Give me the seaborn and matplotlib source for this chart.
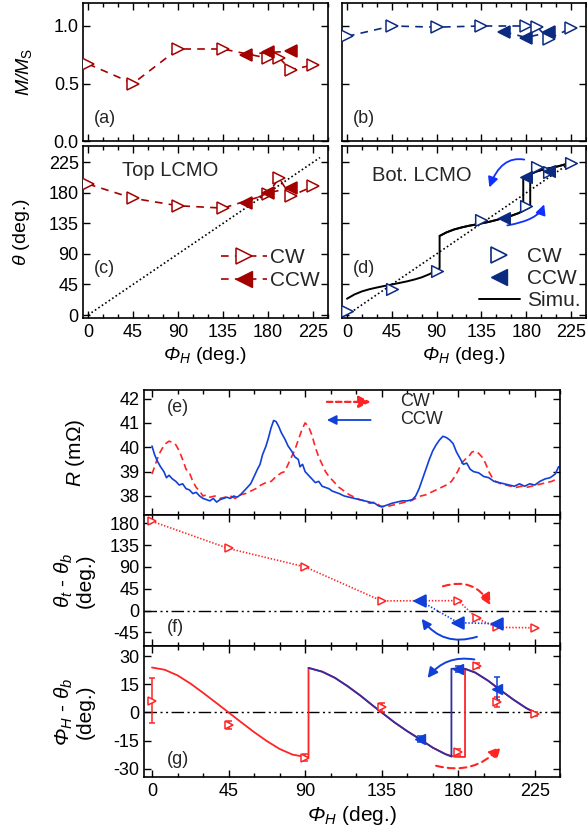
import matplotlib
matplotlib.use('Agg')
import matplotlib.pyplot as plt
import seaborn as sns
import numpy as np
import pandas as pd
from matplotlib.ticker import MultipleLocator, NullFormatter
from matplotlib.lines import Line2D

sns.set_theme(style='ticks')
plt.rcParams.update({
    'font.family': ['Liberation Sans', 'DejaVu Sans'],
    'mathtext.fontset': 'custom',
    'mathtext.rm': 'Liberation Sans:italic',
    'mathtext.it': 'Liberation Sans:italic',
    'mathtext.sf': 'Liberation Sans',
    'axes.unicode_minus': False,
    'lines.scale_dashes': False,
    'xtick.direction': 'in', 'ytick.direction': 'in',
    'xtick.top': True, 'ytick.right': True,
    'xtick.major.size': 5, 'ytick.major.size': 5,
    'xtick.minor.size': 3, 'ytick.minor.size': 3,
    'xtick.major.width': 1.0, 'ytick.major.width': 1.0,
    'xtick.minor.width': 1.0, 'ytick.minor.width': 1.0,
    'axes.linewidth': 1.2,
    'axes.edgecolor': 'black',
    'font.size': 13, 'xtick.labelsize': 13, 'ytick.labelsize': 13,
    'xtick.color': 'black', 'ytick.color': 'black',
    'axes.labelcolor': 'black',
    'xtick.major.pad': 4, 'ytick.major.pad': 3,
})

# ---------------- data ----------------
phi_cw = [0, 45, 90, 135, 180, 191, 202.5, 225]
phi_ccw = [157.5, 180, 202.5]

ms_top_cw = [0.67, 0.50, 0.80, 0.80, 0.72, 0.725, 0.62, 0.66]
ms_top_ccw = [0.75, 0.77, 0.78]
ms_bot_cw = [0.91, 1.00, 0.99, 1.00, 1.00, 0.99, 0.89, 0.98]
ms_bot_ccw = [0.95, 0.90, 0.945]

th_top_cw = [193, 172, 161, 157.5, 178, 202, 175, 189.5]
th_top_ccw = [165, 180, 187]
th_bot_cw = [6.4, 38.3, 65, 140, 160, 217.6, 210, 223.5]
th_bot_ccw = [143, 204, 212.6]

diag_c_x = [0, 232]
diag_c_y = [0, 232]
diag_d_x = [0, 225]
diag_d_y = [0, 225]

# simulated bottom-layer angle (d)
sim_cw_x = [0, 7.5, 15, 22.5, 30, 37.5, 45, 52.5, 60, 67.5, 75, 82.5, 90, 93,
            93, 100, 107.5, 115, 122.5, 130, 135, 142.5, 150, 157.5, 165, 172.5, 178, 184,
            184, 190, 197.5, 205, 212.5, 220, 225]
sim_cw_y = [24, 30.3, 34.8, 38, 40.5, 42.8, 45, 47.2, 49.5, 52.2, 55.5, 60, 66, 69,
            116.5, 121.8, 126, 129, 131.5, 133.5, 135, 137.2, 140, 143.2, 146.2, 150.2, 154.3, 159,
            207.3, 211.3, 214.5, 216.8, 219.3, 222.3, 225]
sim_ccw_x = [225, 220, 212.5, 205, 197.5, 190, 184, 177,
             177, 172.5, 165, 157.5, 150, 142.5, 135, 130, 122.5, 115, 107.5, 100, 93]
sim_ccw_y = [225, 222.3, 219.3, 216.8, 214.5, 211.3, 207.3, 202,
             154, 150.2, 146.2, 143.2, 140, 137.2, 135, 133.5, 131.5, 129, 126, 121.8, 116.5]

# resistance (e)
r_ccw_x = [0, 1.5, 3, 5, 7, 8.5, 10, 12, 14, 16, 18, 20, 22, 24, 26, 28, 30, 32, 34, 36, 38, 40,
           42, 44, 46, 48, 50, 52, 54, 56, 58, 60, 62, 63.5, 65, 67, 68.5, 70, 71.5, 73, 74.5, 76,
           78, 80, 82, 84, 86, 87, 88.5, 90, 92, 94, 96, 98, 100, 102, 104, 106, 108, 110, 113,
           116, 119, 122, 125, 128, 131, 133, 135, 137, 139, 141, 144, 147, 150, 153, 155, 157,
           159, 161, 163, 165, 167, 169, 171, 173, 175, 177, 179, 181, 183, 185, 187, 189, 192,
           195, 198, 201, 204, 207, 210, 213, 216, 219, 222, 225, 228, 231, 234, 237, 239]
r_ccw_y = [40.05, 39.7, 39.45, 39.2, 39.0, 38.75, 38.85, 38.7, 38.6, 38.45, 38.5, 38.3, 38.25,
           38.1, 38.15, 38.0, 37.9, 37.85, 37.8, 37.9, 37.75, 37.85, 37.9, 37.95, 37.9, 38.0,
           37.95, 38.05, 38.2, 38.35, 38.5, 38.8, 39.1, 39.3, 39.7, 40.05, 40.4, 40.8, 41.1,
           41.05, 40.85, 40.6, 40.35, 40.05, 39.85, 39.6, 39.5, 39.2, 39.3, 39.0, 38.85, 38.7,
           38.55, 38.6, 38.4, 38.35, 38.3, 38.2, 38.15, 38.1, 38.0, 37.95, 37.9, 37.85, 37.8,
           37.75, 37.7, 37.6, 37.55, 37.6, 37.65, 37.7, 37.75, 37.8, 37.8, 37.85, 38.0, 38.3,
           38.7, 39.1, 39.5, 39.85, 40.1, 40.3, 40.45, 40.4, 40.3, 40.15, 39.8, 39.55, 39.3,
           39.35, 39.1, 39.0, 38.95, 38.8, 38.75, 38.6, 38.55, 38.5, 38.45, 38.4, 38.5, 38.4,
           38.5, 38.45, 38.6, 38.7, 38.75, 38.9, 39.2]
r_cw_x = [0, 2, 4, 6, 8, 10, 12, 14, 16, 18, 20, 22, 24, 26, 28, 30, 32, 34, 37, 40, 43, 46, 49,
          52, 55, 58, 61, 64, 67, 70, 73, 76, 78, 80, 82, 84, 86, 88, 90, 92, 94, 96, 98, 100,
          102, 104, 106, 108, 110, 113, 116, 119, 122, 125, 128, 131, 134, 137, 140, 143, 146,
          149, 152, 155, 158, 161, 164, 167, 170, 173, 176, 178, 180, 182, 184, 186, 188, 190,
          192, 194, 196, 198, 200, 202, 205, 208, 211, 214, 217, 220, 223, 226, 229, 232, 235, 238]
r_cw_y = [38.9, 39.3, 39.7, 39.95, 40.15, 40.25, 40.2, 40.1, 39.85, 39.5, 39.1, 38.95, 38.6,
          38.35, 38.2, 38.0, 38.05, 37.95, 38.0, 37.9, 37.95, 38.0, 37.9, 38.05, 38.1, 38.2,
          38.3, 38.45, 38.55, 38.6, 38.8, 38.95, 39.0, 39.3, 39.6, 39.9, 40.3, 40.7, 41.0,
          40.85, 40.5, 40.0, 39.6, 39.3, 39.0, 38.8, 38.65, 38.5, 38.35, 38.2, 38.05, 37.95,
          37.85, 37.8, 37.7, 37.75, 37.6, 37.55, 37.6, 37.65, 37.7, 37.75, 37.8, 37.9, 38.0,
          38.05, 38.15, 38.25, 38.35, 38.45, 38.6, 38.8, 39.05, 39.35, 39.5, 39.6, 39.8, 39.85,
          39.75, 39.6, 39.35, 39.0, 38.75, 38.6, 38.5, 38.45, 38.4, 38.35, 38.4, 38.35, 38.4,
          38.45, 38.5, 38.55, 38.6, 38.7]

# angle difference (f)
dth_cw = [184, 128, 90, 20, 20.5, -16, -34.5, -35.5]
dth_ccw = [20.5, -25, -27]

# (g) field - bottom layer angle
g_cw = [6.3, -6.6, -24.2, 2.7, -21.3, 25.0, 5.5, -1.0]
g_cw_err = [12, 2, 2, 2.5, 1.5, 1.2, 2.8, 1.0]
g_ccw = [-14.1, 23.3, 12.7]
g_ccw_err = [1.5, 1.5, 6.2]
gsim_cw_x = [0, 7.5, 15, 22.5, 30, 37.5, 45, 52.5, 60, 67.5, 75, 82.5, 90, 92,
             92, 100, 107.5, 115, 122.5, 130, 135, 142.5, 150, 157.5, 165, 172.5, 178, 184,
             184, 190, 197.5, 205, 212.5, 220, 225]
gsim_cw_y = [24.0, 22.8, 19.8, 15.5, 10.5, 5.3, 0.0, -5.3, -10.5, -15.3, -19.5, -22.5, -23.8, -23.8,
             23.8, 21.8, 18.5, 14.0, 9.0, 3.5, 0.0, -5.3, -10.0, -14.3, -18.8, -22.3, -23.7, -23.8,
             23.3, 21.3, 17.0, 11.8, 6.8, 2.3, 0.0]
gsim_ccw_x = [225, 220, 212.5, 205, 197.5, 190, 184, 180, 176,
              176, 172.5, 165, 157.5, 150, 142.5, 135, 130, 122.5, 115, 107.5, 100, 92]
gsim_ccw_y = [0.0, 2.3, 6.8, 11.8, 17.0, 21.3, 23.3, 23.6, 23.3,
              -23.6, -22.3, -18.8, -14.3, -10.0, -5.3, 0.0, 3.5, 9.0, 14.0, 18.5, 21.8, 23.8]

zero_x = [-5, 240]
zero_y = [0, 0]

# ---------------- styling ----------------
DRED = '#A30000'
NAVY = '#0B2A80'
RED = '#FF2424'
BLUE = '#1040D8'
SIMB = '#2E2EA6'
ARB = '#1030FF'
DASH = (0, (5.5, 4.5))
DASHDOT = (0, (9, 2.5, 1.5, 2.5, 1.5, 2.5))

W, H = 587, 835
fig = plt.figure(figsize=(W / 100, H / 100), dpi=100)

def px_axes(x0, y0, x1, y1):
    return fig.add_axes([x0 / W, 1 - y1 / H, (x1 - x0) / W, (y1 - y0) / H])

axA = px_axes(83, 3, 328, 141)
axB = px_axes(342, 3, 586, 141)
axC = px_axes(83, 146, 328, 318)
axD = px_axes(342, 146, 586, 318)
axE = px_axes(143.5, 390, 560.3, 515)
axF = px_axes(143.5, 515, 560.3, 646)
axG = px_axes(143.5, 646, 560.3, 777)

for ax in [axA, axB, axC, axD, axE, axF, axG]:
    ax.set_xlim(-5, 240)
    ax.xaxis.set_major_locator(MultipleLocator(45))
    ax.xaxis.set_minor_locator(MultipleLocator(15))
    ax.tick_params(which='both', top=True, right=True, direction='in')
    for s in ax.spines.values():
        s.set_linewidth(1.2)
        s.set_color('black')

def mline(ax, x, y, color, marker, filled, ms, ls, lw=1.2, zorder=3):
    sns.lineplot(x=x, y=y, ax=ax, sort=False, estimator=None, color=color,
                 linestyle=ls, lw=lw, marker=marker, ms=ms,
                 mfc=color if filled else 'white', mec=color, mew=1.1, zorder=zorder)

# (a)
mline(axA, phi_cw, ms_top_cw, DRED, '>', False, 9, DASH)
mline(axA, phi_ccw, ms_top_ccw, DRED, '<', True, 9, DASH)
axA.set_ylim(0, 1.2)
axA.set_yticks([0, 0.5, 1.0])
axA.xaxis.set_major_formatter(NullFormatter())
axA.set_ylabel(r'$M/M_\mathsf{S}$', fontsize=14)
axA.yaxis.set_label_coords(-0.2, 0.5)
axA.text(0.045, 0.165, '(a)', transform=axA.transAxes, fontsize=13, va='center')

# (b)
mline(axB, phi_cw, ms_bot_cw, NAVY, '>', False, 9, DASH)
mline(axB, phi_ccw, ms_bot_ccw, NAVY, '<', True, 9, DASH)
axB.set_ylim(0, 1.2)
axB.set_yticks([0, 0.5, 1.0])
axB.xaxis.set_major_formatter(NullFormatter())
axB.yaxis.set_major_formatter(NullFormatter())
axB.text(0.045, 0.165, '(b)', transform=axB.transAxes, fontsize=13, va='center')

# (c)
sns.lineplot(x=diag_c_x, y=diag_c_y, ax=axC, color='black', linestyle=(0, (1.2, 1.8)), lw=1.2)
mline(axC, phi_cw, th_top_cw, DRED, '>', False, 9, DASH)
mline(axC, phi_ccw, th_top_ccw, DRED, '<', True, 9, DASH)
axC.set_ylim(-4.4, 249)
axC.yaxis.set_major_locator(MultipleLocator(45))
axC.set_ylabel(r'$\theta$ (deg.)', fontsize=14)
axC.yaxis.set_label_coords(-0.21, 0.5)
axC.set_xlabel(r'$\Phi_H$ (deg.)', fontsize=14, labelpad=3)
axC.text(0.16, 0.86, 'Top LCMO', transform=axC.transAxes, fontsize=14.5, va='center')
axC.text(0.045, 0.29, '(c)', transform=axC.transAxes, fontsize=13, va='center')
hc = [Line2D([], [], color=DRED, ls=DASH, lw=1.2, marker='>', ms=11, mfc='white', mec=DRED, mew=1.1),
      Line2D([], [], color=DRED, ls=DASH, lw=1.2, marker='<', ms=11, mfc=DRED, mec=DRED)]
axC.legend(hc, ['CW', 'CCW'], loc='center left', bbox_to_anchor=(0.565, 0.285), frameon=False,
           handlelength=2.2, handletextpad=0.15, labelspacing=0.2, borderpad=0, borderaxespad=0,
           fontsize=15, numpoints=1)

# (d)
sns.lineplot(x=diag_d_x, y=diag_d_y, ax=axD, color='black', linestyle=(0, (1.2, 1.8)), lw=1.2)
sns.lineplot(x=sim_cw_x, y=sim_cw_y, ax=axD, sort=False, estimator=None, color='black', lw=1.4)
sns.lineplot(x=sim_ccw_x, y=sim_ccw_y, ax=axD, sort=False, estimator=None, color='black', lw=1.4)
sns.scatterplot(x=phi_cw, y=th_bot_cw, ax=axD, marker='>', s=70, facecolor='white',
                edgecolor=NAVY, linewidth=1.1, zorder=4)
sns.scatterplot(x=phi_ccw, y=th_bot_ccw, ax=axD, marker='<', s=70, color=NAVY,
                edgecolor=NAVY, linewidth=1.0, zorder=4)
axD.set_ylim(-4.4, 249)
axD.yaxis.set_major_locator(MultipleLocator(45))
axD.yaxis.set_major_formatter(NullFormatter())
axD.set_xlabel(r'$\Phi_H$ (deg.)', fontsize=14, labelpad=3)
axD.text(0.125, 0.83, 'Bot. LCMO', transform=axD.transAxes, fontsize=14.5, va='center')
axD.text(0.045, 0.29, '(d)', transform=axD.transAxes, fontsize=13, va='center')
hd = [Line2D([], [], ls='none', marker='>', ms=12, mfc='white', mec=NAVY, mew=1.2),
      Line2D([], [], ls='none', marker='<', ms=12, mfc=NAVY, mec=NAVY),
      Line2D([], [], color='black', lw=1.4)]
axD.legend(hd, ['CW', 'CCW', 'Simu.'], loc='center left', bbox_to_anchor=(0.56, 0.23), frameon=False,
           handlelength=2.0, handletextpad=0.3, labelspacing=0.15, borderpad=0, borderaxespad=0,
           fontsize=15, numpoints=1)
axD.annotate('', xy=(143, 188), xytext=(178, 229),
             arrowprops=dict(arrowstyle='-|>', color=ARB, lw=1.3, mutation_scale=15,
                             connectionstyle='angle3,angleA=170,angleB=70', shrinkA=0, shrinkB=0))
axD.annotate('', xy=(198, 163), xytext=(161, 132),
             arrowprops=dict(arrowstyle='-|>', color=ARB, lw=1.3, mutation_scale=15,
                             connectionstyle='angle3,angleA=10,angleB=70', shrinkA=0, shrinkB=0))

# (e)
sns.lineplot(x=r_cw_x, y=r_cw_y, ax=axE, sort=False, estimator=None, color=RED, lw=1.2,
             linestyle=(0, (5, 3)))
sns.lineplot(x=r_ccw_x, y=r_ccw_y, ax=axE, sort=False, estimator=None, color=BLUE, lw=1.2)
axE.set_ylim(37.22, 42.35)
axE.yaxis.set_major_locator(MultipleLocator(1))
axE.xaxis.set_major_formatter(NullFormatter())
axE.set_ylabel(r'$R$ (m$\mathsf{\Omega}$)', fontsize=15)
axE.yaxis.set_label_coords(-0.135, 0.5)
axE.text(0.055, 0.86, '(e)', transform=axE.transAxes, fontsize=13, va='center')
axE.annotate('', xy=(0.545, 0.905), xytext=(0.44, 0.905), xycoords='axes fraction',
             arrowprops=dict(arrowstyle='-|>', color=RED, lw=1.6, ls=(0, (4, 2.5)),
                             mutation_scale=18, shrinkA=0, shrinkB=0))
axE.annotate('', xy=(0.44, 0.76), xytext=(0.545, 0.76), xycoords='axes fraction',
             arrowprops=dict(arrowstyle='-|>', color=BLUE, lw=1.3, mutation_scale=14,
                             shrinkA=0, shrinkB=0))
axE.text(0.615, 0.905, 'CW', transform=axE.transAxes, fontsize=13, va='center')
axE.text(0.615, 0.76, 'CCW', transform=axE.transAxes, fontsize=13, va='center')

# (f)
sns.lineplot(x=zero_x, y=zero_y, ax=axF, color='black', lw=1.0, linestyle=DASHDOT)
mline(axF, phi_cw, dth_cw, RED, '>', False, 6, (0, (1, 1.3)), lw=1.2)
mline(axF, phi_ccw, dth_ccw, BLUE, '<', True, 8, (0, (1, 1.3)), lw=1.2, zorder=4)
axF.set_ylim(-73, 197)
axF.yaxis.set_major_locator(MultipleLocator(45))
axF.xaxis.set_major_formatter(NullFormatter())
axF.set_ylabel(r'$\theta_t$ - $\theta_b$' + '\n(deg.)', fontsize=15, linespacing=1.0)
axF.yaxis.set_label_coords(-0.118, 0.5)
axF.text(0.055, 0.14, '(f)', transform=axF.transAxes, fontsize=13, va='center')
axF.annotate('', xy=(199, 11), xytext=(171, 50),
             arrowprops=dict(arrowstyle='-|>', color=RED, lw=1.5, ls=(0, (5, 3.5)),
                             mutation_scale=17, shrinkA=0, shrinkB=0,
                             connectionstyle='arc3,rad=-0.4'))
axF.annotate('', xy=(158.5, -17), xytext=(191, -54),
             arrowprops=dict(arrowstyle='-|>', color=BLUE, lw=1.4, mutation_scale=14,
                             shrinkA=0, shrinkB=0, connectionstyle='arc3,rad=-0.35'))

# (g)
sns.lineplot(x=zero_x, y=zero_y, ax=axG, color='black', lw=1.0, linestyle=DASHDOT)
sns.lineplot(x=gsim_cw_x, y=gsim_cw_y, ax=axG, sort=False, estimator=None, color=RED, lw=1.3)
sns.lineplot(x=gsim_ccw_x, y=gsim_ccw_y, ax=axG, sort=False, estimator=None, color=SIMB, lw=1.3)
axG.errorbar(phi_cw, g_cw, yerr=g_cw_err, fmt='>', ms=6, mfc='white', mec=RED, mew=1.1,
             ecolor=RED, elinewidth=1.1, capsize=2.5, capthick=1.1, zorder=5)
axG.errorbar(phi_ccw, g_ccw, yerr=g_ccw_err, fmt='<', ms=7, mfc=BLUE, mec=BLUE,
             ecolor=BLUE, elinewidth=1.1, capsize=2.5, capthick=1.1, zorder=5)
axG.set_ylim(-34.5, 35.5)
axG.yaxis.set_major_locator(MultipleLocator(15))
axG.set_xticks([0, 45, 90, 135, 180, 225])
axG.set_ylabel(r'$\Phi_H$ - $\theta_b$' + '\n(deg.)', fontsize=15, linespacing=1.0)
axG.yaxis.set_label_coords(-0.118, 0.5)
axG.set_xlabel(r'$\Phi_H$ (deg.)', fontsize=15, labelpad=3)
axG.text(0.055, 0.137, '(g)', transform=axG.transAxes, fontsize=13, va='center')
axG.annotate('', xy=(205, -18.3), xytext=(167, -28.5),
             arrowprops=dict(arrowstyle='-|>', color=RED, lw=1.5, ls=(0, (5, 3.5)),
                             mutation_scale=17, shrinkA=0, shrinkB=0,
                             connectionstyle='arc3,rad=0.3'))
axG.annotate('', xy=(162, 18.4), xytext=(189.5, 28.3),
             arrowprops=dict(arrowstyle='-|>', color=BLUE, lw=1.4, mutation_scale=15,
                             shrinkA=0, shrinkB=0, connectionstyle='arc3,rad=0.3'))

fig.savefig('out.png', dpi=100)
